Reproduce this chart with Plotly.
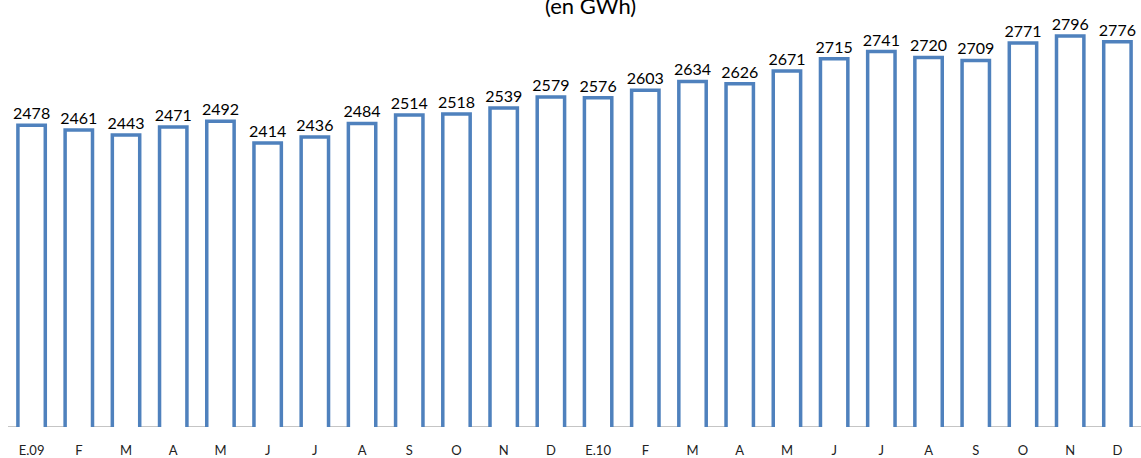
import plotly.graph_objects as go

months = ["E.09", "F", "M", "A", "M", "J", "J", "A", "S", "O", "N", "D",
          "E.10", "F", "M", "A", "M", "J", "J", "A", "S", "O", "N", "D"]
values = [2478, 2461, 2443, 2471, 2492, 2414, 2436, 2484, 2514, 2518, 2539, 2579,
          2576, 2603, 2634, 2626, 2671, 2715, 2741, 2720, 2709, 2771, 2796, 2776]
title_text = "(en GWh)"

positions = list(range(len(months)))

fig = go.Figure()
fig.add_trace(go.Bar(
    x=positions,
    y=values,
    width=0.58,
    marker=dict(color="white", line=dict(color="#4F81BD", width=3.5)),
    text=[str(v) for v in values],
    textposition="outside",
    constraintext="none",
    textfont=dict(family="Lato", size=16, color="#000000"),
    cliponaxis=False,
    hoverinfo="x+y",
))

fig.update_layout(
    width=1141, height=458,
    margin=dict(l=8, r=0, t=7, b=31),
    paper_bgcolor="white",
    plot_bgcolor="white",
    showlegend=False,
    bargap=0.42,
    xaxis=dict(
        tickmode="array",
        tickvals=positions,
        ticktext=months,
        range=[-0.5, len(months) - 0.5],
        showgrid=False,
        zeroline=False,
        showline=False,
        ticks="",
        ticklabelstandoff=14,
        tickfont=dict(family="Lato", size=13, color="#222222"),
    ),
    yaxis=dict(
        range=[1400, 2900],
        visible=False,
        showgrid=False,
        zeroline=False,
    ),
    shapes=[dict(type="line", xref="paper", yref="y", x0=0, x1=1, y0=1400, y1=1400,
                 line=dict(color="#8C8C8C", width=1.2), layer="below")],
    annotations=[dict(text=title_text, xref="paper", yref="paper", x=0.514, y=1.0,
                      xanchor="center", yanchor="middle", yshift=2, showarrow=False,
                      font=dict(family="Lato", size=22, color="#000000"))],
)

fig.write_html("out.html",
               config={"displayModeBar": False},
               post_script="document.body.style.margin='0';document.body.style.overflow='hidden';")
